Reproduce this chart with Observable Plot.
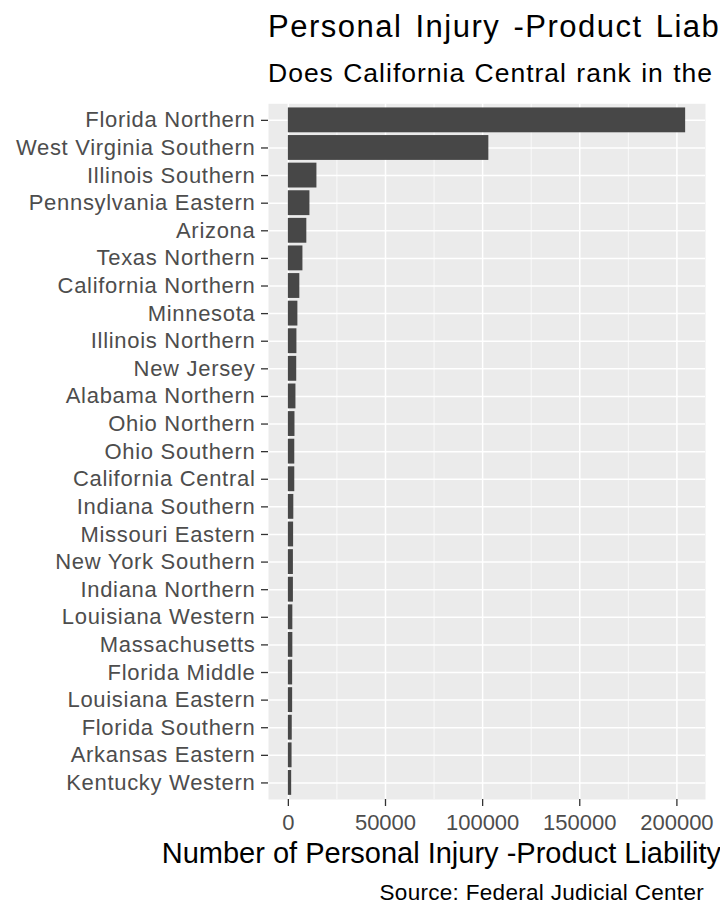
<!DOCTYPE html>
<html>
<head>
<meta charset="utf-8">
<script src="https://cdn.jsdelivr.net/npm/d3@7"></script>
<script src="https://cdn.jsdelivr.net/npm/@observablehq/plot@0.6"></script>
<style>
  html, body { margin: 0; padding: 0; background: white; }
  #wrap { position: relative; width: 720px; height: 921px; overflow: hidden; background: white;
          font-family: "Liberation Sans", Arial, Helvetica, sans-serif; }
  .t { position: absolute; white-space: nowrap; line-height: 1; color: #000; z-index: 2; }
</style>
</head>
<body>
<div id="wrap">
  <div class="t" id="title" style="left:268px; top:11px; font-size:31px; letter-spacing:1.5px; word-spacing:3px;">Personal Injury -Product Liability Cases by District</div>
  <div class="t" id="subtitle" style="left:268px; top:60px; font-size:26.5px; letter-spacing:1px; word-spacing:1px;">Does California Central rank in the top 25 districts?</div>
  <div class="t" id="xlabel" style="left:0px; width:973px; text-align:center; top:839px; font-size:29px;">Number of Personal Injury -Product Liability Cases</div>
  <div class="t" id="caption" style="right:16px; top:882px; font-size:22.5px; letter-spacing:0.3px;">Source: Federal Judicial Center</div>
</div>
<script>
const districts = [
  "Florida Northern", "West Virginia Southern", "Illinois Southern", "Pennsylvania Eastern",
  "Arizona", "Texas Northern", "California Northern", "Minnesota", "Illinois Northern",
  "New Jersey", "Alabama Northern", "Ohio Northern", "Ohio Southern", "California Central",
  "Indiana Southern", "Missouri Eastern", "New York Southern", "Indiana Northern",
  "Louisiana Western", "Massachusetts", "Florida Middle", "Louisiana Eastern",
  "Florida Southern", "Arkansas Eastern", "Kentucky Western"
];
const cases = [
  204500, 103200, 14700, 11100,
  9500, 7500, 5900, 4900, 4400,
  4300, 3900, 3400, 3300, 3300,
  2800, 2700, 2600, 2600,
  2300, 2300, 2200, 2200,
  2000, 1900, 1700
];
const xTicks = [0, 50000, 100000, 150000, 200000];
const xMinorTicks = [25000, 75000, 125000, 175000];

const data = districts.map((d, i) => ({district: d, cases: cases[i]}));
const maxV = d3.max(cases);

const svg = Plot.plot({
  width: 720,
  height: 826,
  marginTop: 8.3,
  marginBottom: 122,
  marginLeft: 268,
  marginRight: 15,
  style: {fontFamily: '"Liberation Sans", Arial, Helvetica, sans-serif', background: "white", overflow: "visible"},
  x: {domain: [-0.05 * maxV, 1.05 * maxV], axis: null},
  y: {domain: districts, paddingInner: 0.1, paddingOuter: 0.15, align: 0.5, round: false, axis: null},
  marks: [
    Plot.frame({fill: "#EBEBEB", stroke: "none"}),
    Plot.gridX({ticks: xMinorTicks, stroke: "white", strokeOpacity: 1, strokeWidth: 0.75}),
    Plot.gridX({ticks: xTicks, stroke: "white", strokeOpacity: 1, strokeWidth: 1.5}),
    Plot.gridY({stroke: "white", strokeOpacity: 1, strokeWidth: 1.5}),
    Plot.barX(data, {x: "cases", y: "district", fill: "#474747"}),
    Plot.axisY({tickSize: 7, tickPadding: 6, fontSize: 22, fill: "#4d4d4d", stroke: "#333333", strokeWidth: 1.3, label: null}),
    Plot.axisX({ticks: xTicks, tickSize: 7, tickPadding: 8, fontSize: 22, fill: "#4d4d4d", stroke: "#333333", strokeWidth: 1.3, tickFormat: d => String(d), label: null})
  ]
});
svg.style.position = "absolute";
svg.style.left = "0px";
svg.style.top = "95px";
svg.style.zIndex = "1";
d3.select(svg).selectAll('g[aria-label="y-axis tick label"] text').style("letter-spacing", "0.7px");
const wrap = document.getElementById("wrap");
wrap.insertBefore(svg, wrap.firstChild);
</script>
</body>
</html>
